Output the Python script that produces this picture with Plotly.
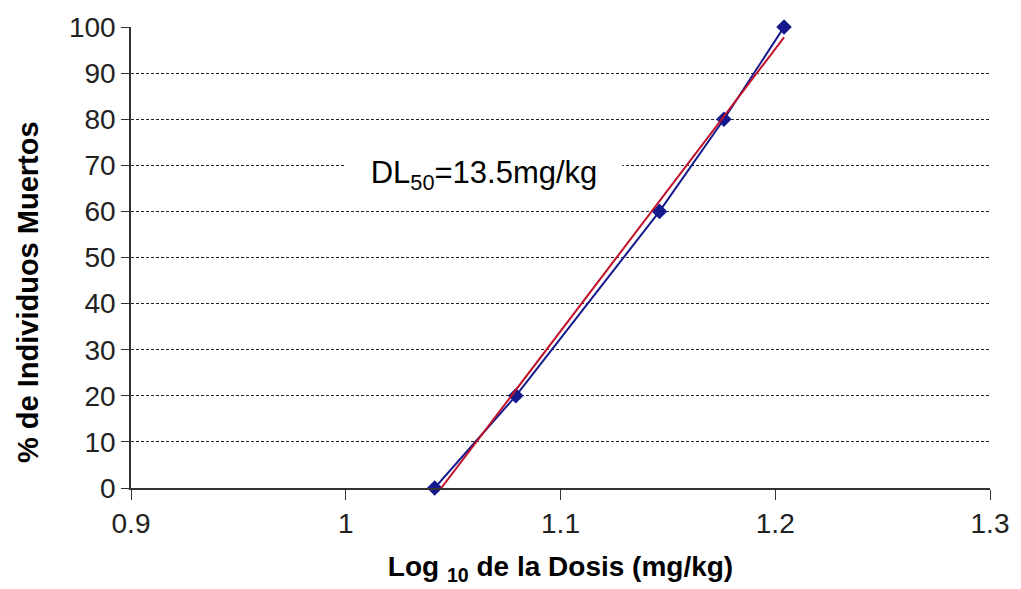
import numpy as np
import plotly.graph_objects as go

log_dose = [1.0414, 1.0792, 1.1461, 1.1761, 1.2041]
pct_dead = [0, 20, 60, 80, 100]
x_ticks = [0.9, 1.0, 1.1, 1.2, 1.3]
x_tick_labels = ["0.9", "1", "1.1", "1.2", "1.3"]
y_ticks = list(range(0, 101, 10))
annot_text = "DL<sub>50</sub>=13.5mg/kg"
y_title = "<b>% de Individuos Muertos</b>"
x_title = "<b>Log <sub>10</sub> de la Dosis (mg/kg)</b>"

# linear trendline computed from the data, clipped at y = 0
slope, intercept = np.polyfit(log_dose, pct_dead, 1)
x0 = max(min(log_dose), -intercept / slope)
x1 = max(log_dose)
trend_x = [x0, x1]
trend_y = [slope * x0 + intercept, slope * x1 + intercept]

font = "Liberation Sans, Arial, sans-serif"

fig = go.Figure()
fig.add_trace(go.Scatter(x=log_dose, y=pct_dead, mode="lines+markers",
                         line=dict(color="#141a8c", width=2),
                         marker=dict(symbol="diamond", size=12, color="#141a8c"),
                         showlegend=False, cliponaxis=False))
fig.add_trace(go.Scatter(x=trend_x, y=trend_y, mode="lines",
                         line=dict(color="#c0102a", width=2),
                         showlegend=False, cliponaxis=False))

fig.add_annotation(x=1.0645, y=68.0, text=annot_text, showarrow=False,
                   font=dict(family=font, size=31, color="black"),
                   bgcolor="white", xanchor="center", yanchor="middle",
                   width=274, height=50)

# y-axis title placed as a rotated annotation to match the reference position
fig.add_annotation(xref="paper", yref="paper", x=-0.12, y=0.425, text=y_title,
                   showarrow=False, textangle=-90,
                   font=dict(family=font, size=29, color="black"),
                   xanchor="center", yanchor="middle")

fig.update_layout(
    width=1021, height=589,
    margin=dict(l=131, r=24, t=27, b=100),
    paper_bgcolor="white", plot_bgcolor="white",
    font=dict(family=font, color="black"),
)
fig.update_xaxes(range=[0.9, 1.3], tickvals=x_ticks, ticktext=x_tick_labels,
                 showgrid=False, zeroline=False, showline=True, linecolor="#333",
                 linewidth=1.5, ticks="outside", ticklen=10, tickcolor="#333",
                 tickfont=dict(family=font, size=28, color="#222"),
                 title=dict(text=x_title,
                            font=dict(family=font, size=28, color="black"), standoff=18))
fig.update_yaxes(range=[0, 100], tickvals=y_ticks,
                 showgrid=True, gridcolor="#222", griddash="3px,2px", gridwidth=1,
                 zeroline=False, showline=True, linecolor="#333", linewidth=1.5,
                 ticks="outside", ticklen=8, tickcolor="#333",
                 tickfont=dict(family=font, size=28, color="#222"))
fig.write_html("out.html")
